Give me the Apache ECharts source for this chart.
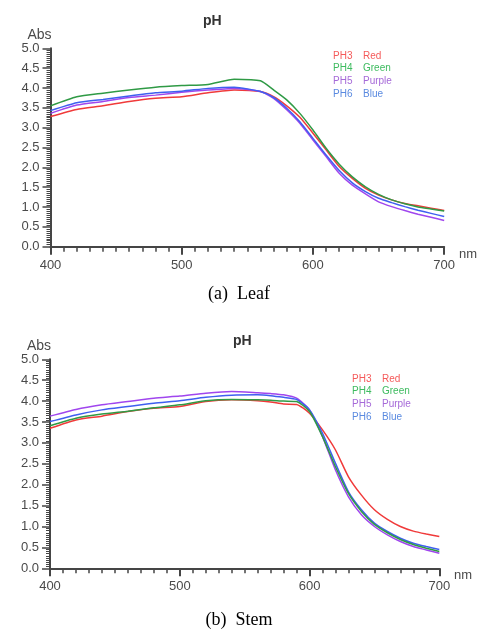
<!DOCTYPE html>
<html>
<head>
<meta charset="utf-8">
<script src="https://cdn.jsdelivr.net/npm/echarts@6/dist/echarts.min.js"></script>
<style>html,body{margin:0;padding:0;background:#fff}#c{width:478px;height:636px}</style>
</head>
<body>
<div id="c"></div>
<script>
const wavelengths = [400,420,440,460,480,500,520,540,560,570,580,590,600,610,620,630,640,650,660,670,680,690,700];
const seriesNames = ['PH3  Red','PH4  Green','PH5  Purple','PH6  Blue'];
const yTicks = [0,0.5,1,1.5,2,2.5,3,3.5,4,4.5,5];
const xTicks = [400,500,600,700];

// (a) Leaf
const leafRed    = [3.28,3.46,3.55,3.66,3.74,3.78,3.88,3.95,3.91,3.78,3.55,3.26,2.86,2.44,2.02,1.72,1.47,1.30,1.18,1.09,1.03,0.97,0.91];
const leafGreen  = [3.55,3.78,3.87,3.95,4.02,4.06,4.09,4.22,4.18,3.95,3.70,3.36,2.94,2.48,2.08,1.76,1.51,1.32,1.18,1.08,1.00,0.95,0.90];
const leafPurple = [3.36,3.57,3.66,3.76,3.82,3.89,3.95,3.99,3.91,3.74,3.45,3.11,2.69,2.27,1.85,1.55,1.33,1.13,1.01,0.91,0.82,0.74,0.66];
const leafBlue   = [3.43,3.63,3.71,3.80,3.88,3.92,3.99,4.02,3.91,3.76,3.49,3.15,2.73,2.31,1.92,1.61,1.39,1.22,1.11,1.01,0.92,0.84,0.76];

// (b) Stem
const stemRed    = [3.35,3.55,3.64,3.75,3.83,3.87,3.99,4.03,4.01,3.98,3.93,3.92,3.71,3.31,2.83,2.19,1.75,1.40,1.17,1.00,0.89,0.82,0.76];
const stemGreen  = [3.41,3.59,3.69,3.76,3.84,3.91,4.01,4.04,4.03,4.02,4.00,3.99,3.75,3.15,2.43,1.79,1.36,1.05,0.85,0.69,0.57,0.48,0.40];
const stemPurple = [3.64,3.80,3.91,3.99,4.07,4.12,4.19,4.23,4.20,4.18,4.15,4.07,3.79,3.15,2.35,1.71,1.28,1.00,0.80,0.64,0.52,0.44,0.36];
const stemBlue   = [3.51,3.67,3.79,3.87,3.95,4.01,4.09,4.14,4.15,4.13,4.09,4.04,3.79,3.23,2.51,1.83,1.40,1.08,0.88,0.72,0.60,0.52,0.45];

const lineColors = ['#f03a3a','#2f9a45','#a046ee','#3f5ff0'];
const legendColors = ['#f55a5a','#3dbb5f','#a66ad8','#5a8ae0'];

const leafData = [leafRed, leafGreen, leafPurple, leafBlue];
const stemData = [stemRed, stemGreen, stemPurple, stemBlue];

const axisCol = '#454545';
const labCol = '#4a4a4a';
function xAx(gi){
  return {
    type:'value', gridIndex:gi, min:400, max:700, interval:100,
    name:'nm', nameLocation:'end', nameGap:8,
    nameTextStyle:{color:labCol, fontSize:13, fontFamily:'Liberation Sans', verticalAlign:'top', align:'left', padding:[1,0,0,0]},
    axisLine:{lineStyle:{color:axisCol, width:2}},
    axisTick:{show:true, length:8, lineStyle:{color:axisCol, width:2}},
    minorTick:{show:true, splitNumber:10, length:5, lineStyle:{color:axisCol, width:1.5}},
    axisLabel:{color:labCol, fontSize:13, fontFamily:'Liberation Sans', margin:12,
      formatter:v=> xTicks.includes(v) ? String(v) : ''},
    splitLine:{show:false}
  };
}
function yAx(gi){
  return {
    type:'value', gridIndex:gi, min:0, max:5, interval:0.5,
    name:'Abs', nameLocation:'end', nameGap:1,
    nameTextStyle:{color:labCol, fontSize:14, fontFamily:'Liberation Sans', align:'center', padding:[0,0,-5,-22]},
    axisLine:{lineStyle:{color:axisCol, width:2}},
    axisTick:{show:true, length:8, lineStyle:{color:axisCol, width:1.5}},
    minorTick:{show:true, splitNumber:10, length:4, lineStyle:{color:axisCol, width:1}},
    axisLabel:{color:labCol, fontSize:13, fontFamily:'Liberation Sans', margin:11,
      formatter:v=> yTicks.some(t=>Math.abs(t-v)<1e-6) ? v.toFixed(1) : ''},
    splitLine:{show:false}
  };
}

const series = [];
[leafData, stemData].forEach((set, gi)=>{
  set.forEach((arr, i)=>{
    series.push({
      type:'line', xAxisIndex:gi, yAxisIndex:gi, name:seriesNames[i],
      data: wavelengths.map((w,k)=>[w, arr[k]]),
      showSymbol:false, smooth:0.2, animation:false,
      lineStyle:{color:lineColors[i], width:1.5},
      itemStyle:{color:lineColors[i]}, z: i===1?3:2
    });
  });
});

function legendTexts(x0, y0){
  const out = [];
  seriesNames.forEach((n,i)=>{
    const parts = n.split('  ');
    out.push({type:'text', left:x0, top:y0+i*12.6, style:{text:parts[0], fill:legendColors[i], font:'10px "Liberation Sans"'}});
    out.push({type:'text', left:x0+30, top:y0+i*12.6, style:{text:parts[1], fill:legendColors[i], font:'10px "Liberation Sans"'}});
  });
  return out;
}

const chart = echarts.init(document.getElementById('c'), null, {renderer:'canvas'});
chart.setOption({
  backgroundColor:'#fff',
  animation:false,
  title:[
    {text:'pH', left:198, top:9, textStyle:{fontSize:14, fontWeight:'bold', color:'#333', fontFamily:'Liberation Sans'}},
    {text:'pH', left:228, top:329, textStyle:{fontSize:14, fontWeight:'bold', color:'#333', fontFamily:'Liberation Sans'}}
  ],
  grid:[
    {left:50.5, top:48.3, width:395, height:198.4, containLabel:false},
    {left:50, top:359.3, width:389.3, height:209, containLabel:false}
  ],
  xAxis:[xAx(0), xAx(1)],
  yAxis:[yAx(0), yAx(1)],
  series: series,
  graphic: [
    ...legendTexts(333, 51),
    ...legendTexts(352, 374),
    {type:'text', left:'center', top:285, style:{text:'(a)  Leaf', fill:'#000', font:'18px "Liberation Serif"'}},
    {type:'text', left:'center', top:611, style:{text:'(b)  Stem', fill:'#000', font:'18px "Liberation Serif"'}}
  ]
});
</script>
</body>
</html>
